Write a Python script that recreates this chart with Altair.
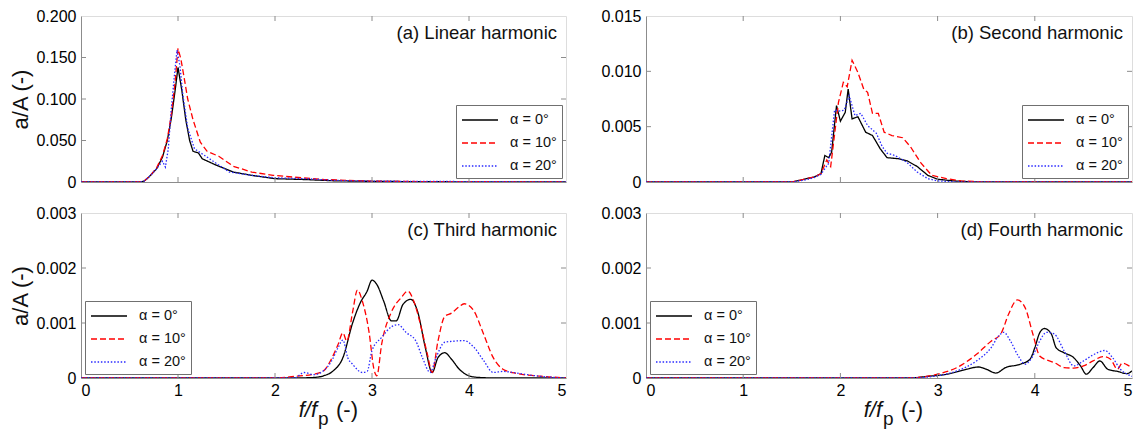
import altair as alt
import pandas as pd

SERIES = ["α = 0°", "α = 10°", "α = 20°"]
COLORS = ["#000000", "#ff0000", "#2a2aff"]
DASHES = [[1, 0], [6, 3], [1.5, 1.8]]

# ---- (a) Linear harmonic ----
A_X0 = [0, 0.6, 0.65, 0.7, 0.78, 0.84, 0.89, 0.93, 0.97, 1.0, 1.04, 1.08, 1.12, 1.155, 1.21, 1.25, 1.38, 1.57, 1.76, 2.0, 2.3, 2.6, 3.0, 3.5, 4.0, 5.0]
A_Y0 = [0, 0, 0.001, 0.006, 0.016, 0.03, 0.05, 0.076, 0.11, 0.138, 0.11, 0.075, 0.05, 0.037, 0.035, 0.028, 0.021, 0.012, 0.008, 0.004, 0.003, 0.0015, 0.0008, 0.0004, 0.0002, 0]
A_X10 = [0, 0.6, 0.65, 0.7, 0.78, 0.84, 0.89, 0.93, 0.97, 1.0, 1.03, 1.06, 1.1, 1.155, 1.23, 1.3, 1.42, 1.57, 1.76, 1.98, 2.28, 2.5, 3.0, 3.5, 5.0]
A_Y10 = [0, 0, 0.001, 0.006, 0.017, 0.032, 0.052, 0.08, 0.12, 0.161, 0.148, 0.128, 0.1, 0.075, 0.048, 0.037, 0.031, 0.019, 0.012, 0.008, 0.005, 0.003, 0.001, 0.0005, 0]
A_X20 = [0, 0.6, 0.65, 0.7, 0.78, 0.84, 0.87, 0.9, 0.93, 0.96, 0.99, 1.02, 1.05, 1.1, 1.17, 1.3, 1.4, 1.53, 1.76, 2.0, 2.32, 2.6, 3.0, 5.0]
A_Y20 = [0, 0, 0.001, 0.006, 0.016, 0.025, 0.018, 0.04, 0.087, 0.125, 0.159, 0.14, 0.105, 0.065, 0.04, 0.03, 0.022, 0.012, 0.008, 0.005, 0.004, 0.002, 0.001, 0]

# ---- (b) Second harmonic ----
B_X0 = [0, 1.5, 1.58, 1.65, 1.73, 1.8, 1.84, 1.88, 1.91, 1.96, 2.0, 2.05, 2.08, 2.12, 2.18, 2.26, 2.33, 2.41, 2.48, 2.6, 2.69, 2.79, 2.9, 3.0, 3.16, 3.4, 5.0]
B_Y0 = [0, 0, 0.00015, 0.0003, 0.00045, 0.00075, 0.0024, 0.0022, 0.0027, 0.0069, 0.0055, 0.0063, 0.0084, 0.0057, 0.0059, 0.0045, 0.0042, 0.003, 0.0022, 0.0021, 0.0019, 0.0014, 0.0006, 0.00025, 0.0001, 0, 0]
B_X10 = [0, 1.5, 1.58, 1.65, 1.73, 1.8, 1.86, 1.9, 1.98, 2.03, 2.07, 2.12, 2.18, 2.24, 2.28, 2.33, 2.39, 2.45, 2.53, 2.64, 2.72, 2.83, 2.94, 3.09, 3.24, 3.5, 5.0]
B_Y10 = [0, 0, 0.00015, 0.0003, 0.00045, 0.00075, 0.002, 0.0014, 0.0072, 0.009, 0.0086, 0.011, 0.0099, 0.0084, 0.0081, 0.0062, 0.0062, 0.0045, 0.0042, 0.004, 0.0032, 0.0017, 0.0006, 0.0003, 0.0001, 0, 0]
B_X20 = [0, 1.5, 1.58, 1.65, 1.73, 1.8, 1.88, 1.94, 2.0, 2.04, 2.09, 2.15, 2.21, 2.28, 2.37, 2.43, 2.48, 2.56, 2.68, 2.79, 2.9, 3.0, 3.2, 5.0]
B_Y20 = [0, 0, 0.0001, 0.0002, 0.0004, 0.0007, 0.0017, 0.0065, 0.0064, 0.0065, 0.0078, 0.006, 0.0062, 0.0051, 0.0044, 0.0032, 0.0026, 0.0024, 0.0018, 0.0009, 0.0003, 0.0001, 0, 0]

# ---- (c) Third harmonic ----
C_X0 = [0, 2.2, 2.4, 2.5, 2.6, 2.7, 2.8, 2.88, 2.95, 3.0, 3.05, 3.12, 3.2, 3.25, 3.32, 3.4, 3.47, 3.55, 3.62, 3.68, 3.75, 3.82, 3.9, 4.0, 4.1, 4.3, 5.0]
C_Y0 = [0, 0, 0.00001, 0.00004, 0.00013, 0.00037, 0.001, 0.00137, 0.00158, 0.00178, 0.0017, 0.0014, 0.00104, 0.00104, 0.00134, 0.00143, 0.00121, 0.00055, 0.0001, 0.00037, 0.00046, 0.00034, 0.00016, 0.00004, 0.00001, 0, 0]
C_X10 = [0, 2.0, 2.2, 2.4, 2.5, 2.58, 2.65, 2.7, 2.74, 2.8, 2.85, 2.9, 2.97, 3.02, 3.05, 3.1, 3.2, 3.3, 3.37, 3.43, 3.5, 3.57, 3.62, 3.68, 3.75, 3.82, 3.9, 3.95, 4.05, 4.15, 4.25, 4.35, 4.5, 4.7, 5.0]
C_Y10 = [0, 0, 0.00003, 0.00007, 0.00013, 0.00034, 0.00061, 0.00082, 0.00067, 0.0012, 0.0016, 0.0014, 0.00083, 0.00016, 0.00004, 0.00062, 0.0012, 0.00146, 0.00158, 0.0014, 0.00097, 0.00044, 0.0001, 0.00067, 0.00112, 0.00118, 0.0013, 0.00135, 0.00122, 0.0008, 0.00037, 0.00016, 0.00008, 0.00004, 0]
C_X20 = [0, 2.2, 2.3, 2.4, 2.5, 2.58, 2.65, 2.7, 2.75, 2.8, 2.9, 2.95, 3.0, 3.1, 3.2, 3.27, 3.35, 3.45, 3.52, 3.6, 3.66, 3.75, 3.85, 3.95, 4.05, 4.15, 4.25, 4.35, 4.45, 4.6, 4.8, 5.0]
C_Y20 = [0, 0, 0.0001, 0.00006, 0.00013, 0.0003, 0.00055, 0.00069, 0.00037, 0.00025, 0.0001, 0.00012, 0.0005, 0.00074, 0.00093, 0.00097, 0.00083, 0.00068, 0.00037, 0.0001, 0.00037, 0.00065, 0.00067, 0.00068, 0.00056, 0.00032, 0.0001, 0.00012, 0.0001, 0.00006, 0.00002, 0]

# ---- (d) Fourth harmonic ----
D_X0 = [0, 2.7, 2.9, 3.1, 3.3, 3.42, 3.5, 3.6, 3.7, 3.85, 3.95, 4.0, 4.05, 4.1, 4.17, 4.22, 4.3, 4.4, 4.47, 4.53, 4.6, 4.67, 4.75, 4.85, 4.95, 5.0]
D_Y0 = [0, 0, 0.00003, 0.00007, 0.00016, 0.0002, 0.00016, 0.00009, 0.00019, 0.00025, 0.00034, 0.00055, 0.00082, 0.0009, 0.0008, 0.00055, 0.00046, 0.00037, 0.00022, 0.00007, 0.00019, 0.00031, 0.00016, 0.00012, 0.00008, 0.00013]
D_X10 = [0, 2.7, 3.0, 3.2, 3.4, 3.55, 3.65, 3.73, 3.82, 3.9, 3.98, 4.05, 4.12, 4.2, 4.3, 4.4, 4.5, 4.6, 4.7, 4.78, 4.85, 4.9, 4.97, 5.0]
D_Y10 = [0, 0, 0.00007, 0.00019, 0.00043, 0.00067, 0.0008, 0.00116, 0.00142, 0.00128, 0.0008, 0.0004, 0.00033, 0.00028, 0.00019, 0.00018, 0.00022, 0.00031, 0.00039, 0.00034, 0.00016, 0.00027, 0.00022, 0.00019]
D_X20 = [0, 2.7, 3.0, 3.2, 3.4, 3.55, 3.63, 3.68, 3.75, 3.83, 3.9, 3.97, 4.05, 4.12, 4.2, 4.3, 4.4, 4.5, 4.6, 4.72, 4.8, 4.88, 4.95, 5.0]
D_Y20 = [0, 0, 0.00004, 0.00013, 0.00031, 0.00055, 0.00077, 0.00083, 0.00067, 0.0004, 0.00025, 0.00037, 0.00067, 0.00083, 0.0008, 0.0005, 0.00022, 0.00031, 0.00042, 0.0005, 0.00037, 0.00016, 0.00007, 0.00003]

X_TICKS = [0, 1, 2, 3, 4, 5]
A_TICKS = [0, 0.05, 0.1, 0.15, 0.2]
B_TICKS = [0, 0.005, 0.01, 0.015]
CD_TICKS = [0, 0.001, 0.002, 0.003]

FONT = "Liberation Sans"
GRAY = "#8c8c8c"
W_L, W_R = 485, 486
H_T, H_B = 166, 165


def frame(xs, ys):
    rows = []
    for name, xv, yv in zip(SERIES, xs, ys):
        for i, (a, b) in enumerate(zip(xv, yv)):
            rows.append({"x": a, "y": b, "s": name, "i": i})
    return pd.DataFrame(rows)


def panel(df, label, ymax, yticks, W, H, left, bottom, legend_orient, interp):
    # line sample twice as long as the layout slot, shifted right to start at the slot
    leg = alt.Legend(title=None, orient=legend_orient, offset=4, strokeColor="#707070",
                     fillColor="white", padding=5, symbolType="M-2,0H2", symbolSize=324,
                     symbolStrokeWidth=1.3, symbolOffset=9, labelFontSize=14.5, labelFont=FONT,
                     labelColor="#111111", rowPadding=6, labelOffset=20)
    xaxis = alt.Axis(values=X_TICKS, ticks=False, grid=False, labels=bottom,
                     labelFontSize=16, labelPadding=4, domainColor=GRAY, format="d", title=None)
    yaxis_kw = dict(values=yticks, ticks=False, grid=False, labelFontSize=16, labelPadding=5,
                    domainColor=GRAY,
                    labelExpr="datum.value == 0 ? '0' : format(datum.value, '.3f')")
    if left:
        yaxis = alt.Axis(title="a/A (-)", titleFontSize=22, titleFontWeight="normal",
                         titleFont=FONT, titleColor="#111111", titlePadding=3, **yaxis_kw)
    else:
        yaxis = alt.Axis(title=None, **yaxis_kw)
    xs = alt.Scale(domain=[0, 5], nice=False, zero=False)
    ys = alt.Scale(domain=[0, ymax], nice=False)
    lines = alt.Chart(df).mark_line(strokeWidth=1.3, clip=True, interpolate=interp).encode(
        x=alt.X("x:Q", scale=xs, axis=xaxis),
        y=alt.Y("y:Q", scale=ys, axis=yaxis),
        color=alt.Color("s:N", scale=alt.Scale(domain=SERIES, range=COLORS), legend=leg),
        strokeDash=alt.StrokeDash("s:N", scale=alt.Scale(domain=SERIES, range=DASHES), legend=leg),
        order=alt.Order("i:Q"),
    )
    xt = pd.DataFrame({"x": X_TICKS[1:-1]})
    yt = pd.DataFrame({"y": yticks[1:-1]})
    tb = alt.Chart(xt).mark_rule(color=GRAY).encode(x=alt.X("x:Q", scale=xs, axis=xaxis), y=alt.value(H), y2=alt.value(H - 5))
    tt = alt.Chart(xt).mark_rule(color=GRAY).encode(x=alt.X("x:Q", scale=xs, axis=xaxis), y=alt.value(0), y2=alt.value(5))
    tl = alt.Chart(yt).mark_rule(color=GRAY).encode(y=alt.Y("y:Q", scale=ys, axis=yaxis), x=alt.value(0), x2=alt.value(5))
    tr = alt.Chart(yt).mark_rule(color=GRAY).encode(y=alt.Y("y:Q", scale=ys, axis=yaxis), x=alt.value(W - 5), x2=alt.value(W))
    lab = alt.Chart(pd.DataFrame({"t": [label]})).mark_text(
        align="right", baseline="middle", fontSize=18.5, font=FONT, color="#111111"
    ).encode(text="t:N", x=alt.value(W - 9), y=alt.value(17))
    layers = [lines, tb, tt, tl, tr, lab]
    if bottom:
        t1 = alt.Chart(pd.DataFrame({"t": ["f/f"]})).mark_text(
            align="right", baseline="alphabetic", fontSize=22, font=FONT, fontStyle="italic", color="#111111"
        ).encode(text="t:N", x=alt.value(236), y=alt.value(H + 39))
        t2 = alt.Chart(pd.DataFrame({"t": ["p"]})).mark_text(
            align="left", baseline="alphabetic", fontSize=19, font=FONT, color="#111111"
        ).encode(text="t:N", x=alt.value(237), y=alt.value(H + 47))
        t3 = alt.Chart(pd.DataFrame({"t": ["(-)"]})).mark_text(
            align="left", baseline="alphabetic", fontSize=22, font=FONT, color="#111111"
        ).encode(text="t:N", x=alt.value(255), y=alt.value(H + 39))
        layers += [t1, t2, t3]
    return alt.layer(*layers).properties(width=W, height=H)


pa = panel(frame([A_X0, A_X10, A_X20], [A_Y0, A_Y10, A_Y20]), "(a) Linear harmonic", 0.2, A_TICKS,
           W_L, H_T, True, False, "bottom-right", "linear")
pb = panel(frame([B_X0, B_X10, B_X20], [B_Y0, B_Y10, B_Y20]), "(b) Second harmonic", 0.015, B_TICKS,
           W_R, H_T, False, False, "bottom-right", "linear")
pc = panel(frame([C_X0, C_X10, C_X20], [C_Y0, C_Y10, C_Y20]), "(c) Third harmonic", 0.003, CD_TICKS,
           W_L, H_B, True, True, "bottom-left", "monotone")
pd_ = panel(frame([D_X0, D_X10, D_X20], [D_Y0, D_Y10, D_Y20]), "(d) Fourth harmonic", 0.003, CD_TICKS,
            W_R, H_B, False, True, "bottom-left", "monotone")

chart = alt.concat(pa, pb, pc, pd_, columns=2, bounds="flush",
                   spacing=alt.RowColnumber(row=31, column=80)).resolve_scale(
    x="independent", y="independent", color="independent", strokeDash="independent"
).resolve_legend(color="independent", strokeDash="independent").properties(
    padding={"left": 9, "top": 7, "right": 0, "bottom": 0}
).configure_view(stroke=GRAY, strokeWidth=1).configure_axis(
    labelFont=FONT, labelColor="#111111", domainWidth=1
).configure(background="white")

chart.save("out.html", embed_options={"renderer": "svg", "actions": False})
